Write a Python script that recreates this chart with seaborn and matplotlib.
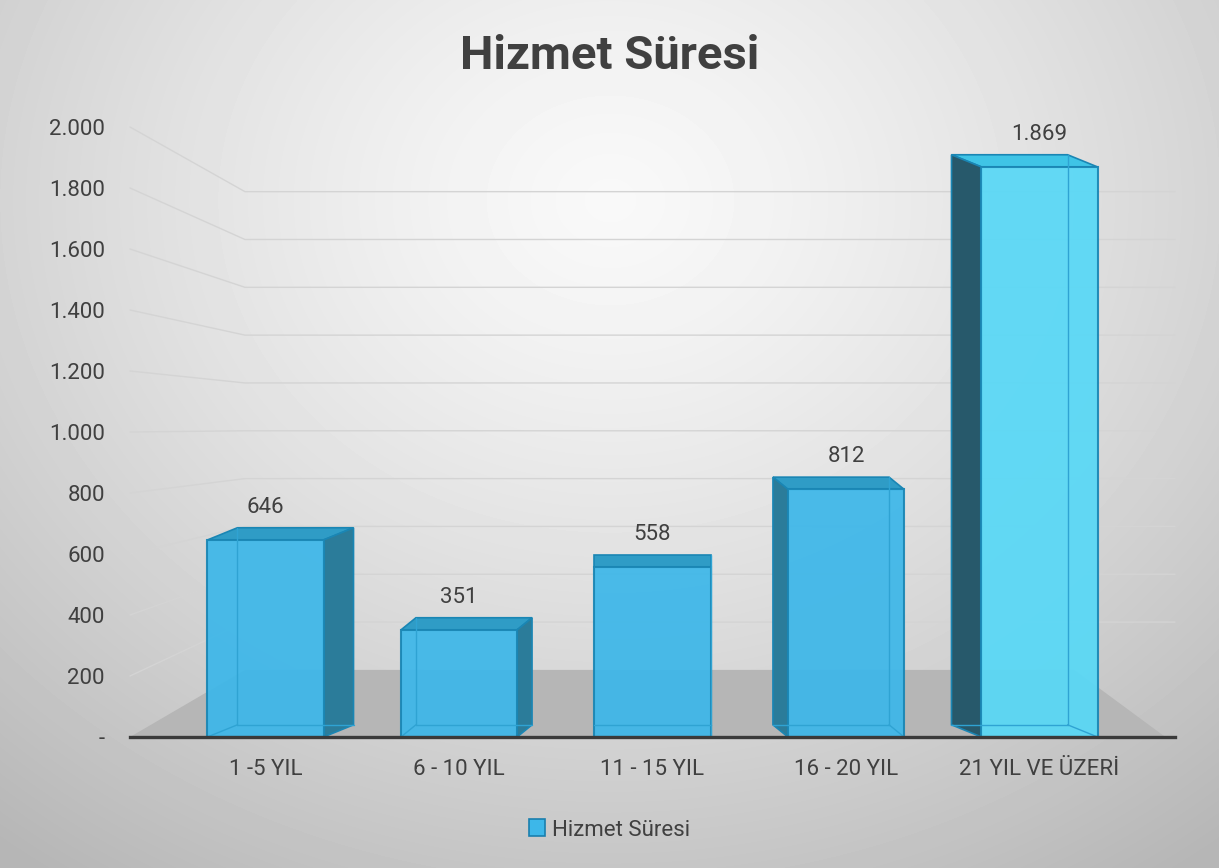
import numpy as np
import pandas as pd
import matplotlib
matplotlib.use('Agg')
import matplotlib.pyplot as plt
import seaborn as sns
from matplotlib.patches import Polygon, Rectangle

categories = ['1 -5 YIL', '6 - 10 YIL', '11 - 15 YIL', '16 - 20 YIL', '21 YIL VE ÜZERİ']
values = [646, 351, 558, 812, 1869]
value_labels = ['646', '351', '558', '812', '1.869']
y_ticks = [0, 200, 400, 600, 800, 1000, 1200, 1400, 1600, 1800, 2000]
y_tick_labels = ['-', '200', '400', '600', '800', '1.000', '1.200', '1.400', '1.600', '1.800', '2.000']
series_name = 'Hizmet Süresi'
chart_title = 'Hizmet Süresi'

sns.set_theme(style='white')
plt.rcParams['font.family'] = ['Roboto', 'DejaVu Sans']

text_color = '#404040'
front_color = '#3DB7E9'
front_last = '#58D8F6'
side_color = '#2B7C9A'
side_last = '#27596B'
top_color = '#2F9CC6'
edge_color = '#1A86B4'

fig = plt.figure(figsize=(12.19, 8.68), dpi=100)

# radial grey background like the office chart area
bg = fig.add_axes([0, 0, 1, 1], zorder=-10)
yy, xx = np.mgrid[0:868, 0:1219]
r = np.sqrt(((xx - 610) / 850.0) ** 2 + ((yy - 200) / 720.0) ** 2)
shade = 0.975 - 0.22 * np.clip(r, 0, 1.15) ** 1.3
bg.imshow(shade, cmap='gray', vmin=0, vmax=1, aspect='auto', extent=[0, 1, 0, 1])
bg.axis('off')

ax = fig.add_axes([130 / 1219, 1 - 737 / 868, 1045 / 1219, 610 / 868])
ax.patch.set_alpha(0)

df = pd.DataFrame({'Kategori': categories, 'Deger': values})
sns.barplot(data=df, x='Kategori', y='Deger', color=front_color, saturation=1,
            width=0.6, ax=ax, zorder=4)

x_lo, x_hi = -0.7, 4.7
ax.set_xlim(x_lo, x_hi)
ax.set_ylim(0, 2000)

# floor and back wall (perspective look)
wall_x = -0.106
floor_h = 220
ax.add_patch(Polygon([(x_lo, 0), (4.65, 0), (4.18, floor_h), (wall_x, floor_h)],
                     closed=True, facecolor='#B6B6B6', edgecolor='none', zorder=1))
for v in y_ticks[1:]:
    wv = floor_h + 0.784 * v
    ax.plot([x_lo, wall_x, x_hi], [v, wv, wv], color='#D4D4D4', lw=1.0, zorder=0.5,
            clip_on=False)

dy = 40
for i, p in enumerate(ax.patches[:len(values)]):
    x0, w, h = p.get_x(), p.get_width(), p.get_height()
    last = i == len(values) - 1
    p.set_facecolor(front_last if last else front_color)
    p.set_edgecolor(edge_color)
    p.set_linewidth(1.5)
    p.set_alpha(0.93)
    dx = (2 - i) * 0.0775
    top = Polygon([(x0, h), (x0 + w, h), (x0 + w + dx, h + dy), (x0 + dx, h + dy)],
                  closed=True, facecolor=top_color if not last else '#3FC4E6',
                  edgecolor=edge_color, lw=1.2, zorder=3)
    ax.add_patch(top)
    sx = x0 + w if dx > 0 else x0
    if dx != 0:
        side = Polygon([(sx, 0), (sx, h), (sx + dx, h + dy), (sx + dx, dy)],
                       closed=True, facecolor=side_last if last else side_color,
                       edgecolor=edge_color, lw=1.2, zorder=3)
        ax.add_patch(side)
    # faint hidden edges of the glass box
    bx = x0 + dx if dx > 0 else x0 + w + dx
    hid = '#2FA3D3'
    ax.plot([bx, bx], [dy, h + dy], color=hid, lw=1, zorder=5)
    ax.plot([x0 + dx, x0 + w + dx], [dy, dy], color=hid, lw=1, zorder=5)
    cx = x0 if dx > 0 else x0 + w
    ax.plot([cx, cx + dx], [0, dy], color=hid, lw=1, zorder=5)
    ax.annotate(value_labels[i], (x0 + w / 2, h + dy), xytext=(0, 7),
                textcoords='offset points', ha='center', va='bottom',
                fontsize=16, color=text_color, zorder=6)

ax.set_yticks(y_ticks)
ax.set_yticklabels(y_tick_labels)
ax.set_xlabel('')
ax.set_ylabel('')
ax.tick_params(axis='y', length=0, pad=18, labelsize=16, labelcolor=text_color)
ax.tick_params(axis='x', length=0, pad=16, labelsize=16, labelcolor=text_color)
for s in ['top', 'right', 'left']:
    ax.spines[s].set_visible(False)
ax.spines['bottom'].set_color('#3A3A3A')
ax.spines['bottom'].set_linewidth(2.4)
ax.spines['bottom'].set_zorder(10)

fig.text(0.5, 1 - 56 / 868, chart_title, ha='center', va='center', fontsize=34,
         fontweight='bold', color=text_color)

handle = Rectangle((0, 0), 1, 1, facecolor=front_color, edgecolor='#1A7FAE', lw=1.2)
fig.legend([handle], [series_name], loc='center', bbox_to_anchor=(0.5, 1 - 830 / 868),
           frameon=False, fontsize=16, handlelength=0.7, handleheight=0.8,
           handletextpad=0.3, labelcolor=text_color)

fig.savefig('out.png', dpi=100)
